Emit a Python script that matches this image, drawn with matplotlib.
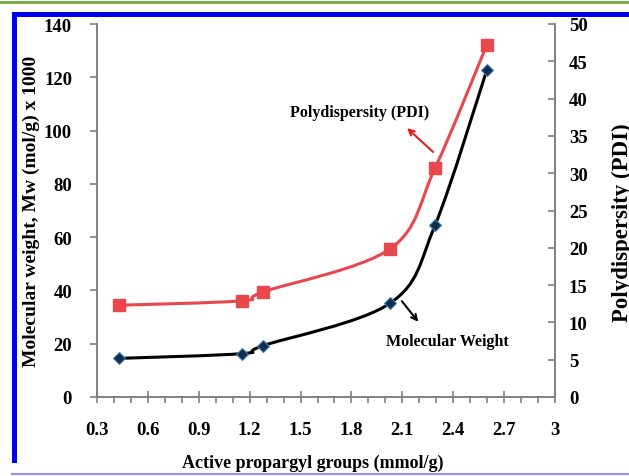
import numpy as np
import matplotlib
matplotlib.use("Agg")
import matplotlib.pyplot as plt
from matplotlib.path import Path
from matplotlib.patches import PathPatch, Rectangle
from matplotlib.lines import Line2D
from matplotlib.ticker import MultipleLocator

# data
propargyl = [0.43, 1.155, 1.28, 2.03, 2.293, 2.598]
mol_weight = [14.5, 16.3, 19.3, 35.3, 64.5, 122.7]
pdi = [12.3, 12.9, 14.1, 19.9, 30.7, 47.2]
xtick_labels = ['0.3', '0.6', '0.9', '1.2', '1.5', '1.8', '2.1', '2.4', '2.7', '3']

plt.rcParams['font.family'] = ['Liberation Serif', 'DejaVu Serif']
plt.rcParams['font.weight'] = 'bold'


def smooth_path(x, y):
    # excel-like smoothed line: catmull-rom segments as cubic beziers
    pts = np.column_stack([x, y]).astype(float)
    p = np.vstack([pts[0], pts, pts[-1]])
    verts = [pts[0]]
    codes = [Path.MOVETO]
    for i in range(1, len(p) - 2):
        c1 = p[i] + (p[i + 1] - p[i - 1]) / 6.0
        c2 = p[i + 1] - (p[i + 2] - p[i]) / 6.0
        verts += [c1, c2, p[i + 1]]
        codes += [Path.CURVE4] * 3
    return Path(verts, codes)


fig = plt.figure(figsize=(6.29, 4.77), dpi=100)
ax = fig.add_axes([97 / 629, 1 - 398 / 477, 458 / 629, 373 / 477])
ax2 = ax.twinx()

black = '#000000'
red = '#E8474C'

ax.add_patch(PathPatch(smooth_path(propargyl, mol_weight), fill=False,
                       edgecolor=black, lw=2.2, zorder=3))
ax.plot(propargyl, mol_weight, ls='none', marker='D', ms=6,
        mfc='#0f2f4f', mec='#3f7fb0', mew=0.8, zorder=4)

ax2.add_patch(PathPatch(smooth_path(propargyl, pdi), fill=False,
                        edgecolor=red, lw=2.2, zorder=3))
ax2.plot(propargyl, pdi, ls='none', marker='s', ms=8,
         mfc=red, mec=red, zorder=4)

ax.set_xlim(0.3, 3.0)
ax.set_ylim(0, 140)
ax2.set_ylim(0, 50)

ax.xaxis.set_minor_locator(MultipleLocator(0.1))
ax.yaxis.set_major_locator(MultipleLocator(20))
ax2.yaxis.set_major_locator(MultipleLocator(5))
ax.set_xticks(np.arange(0.3, 3.01, 0.3))
ax.set_xticklabels(xtick_labels)

grey = '#808080'
for a in (ax, ax2):
    for s in a.spines.values():
        s.set_color(grey)
        s.set_linewidth(1.2)
    a.spines['top'].set_visible(False)
ax.tick_params(axis='x', which='major', direction='inout', length=9, width=1.2,
               color=grey, labelsize=13.5, pad=13)
ax.tick_params(axis='x', which='minor', direction='out', length=4, width=1.2, color=grey)
ax.tick_params(axis='y', direction='out', length=5, width=1.2, color=grey,
               labelsize=13.5, pad=13)
ax2.tick_params(axis='y', direction='in', length=5, width=1.2, color=grey,
                labelsize=13.5, pad=10)

ax.set_xlabel('Active propargyl groups (mmol/g)', fontsize=13, fontweight='bold')
ax.xaxis.set_label_coords(0.47, -0.152)
ax.set_ylabel('Molecular weight, Mw (mol/g) x 1000', fontsize=14, fontweight='bold')
ax.yaxis.set_label_coords(-0.125, 0.5)
ax2.set_ylabel('Polydispersity (PDI)', fontsize=16.5, fontweight='bold', rotation=90)
ax2.yaxis.set_label_coords(1.125, 0.47)

ax2.text(1.851, 38.2, 'Polydispersity (PDI)', fontsize=11.5, fontweight='bold',
         ha='center', va='center')
ax2.annotate('', xy=(2.116, 36.3), xytext=(2.293, 32.6),
             arrowprops=dict(arrowstyle='->', color='#E02020', lw=1.5))
ax.text(2.364, 21.1, 'Molecular Weight', fontsize=11.5, fontweight='bold',
        ha='center', va='center')
ax.annotate('', xy=(2.204, 27.4), xytext=(2.087, 36.8),
            arrowprops=dict(arrowstyle='->', color='black', lw=1.5))

# page decorations around the figure
fig.add_artist(Line2D([0, 1], [1 - 3 / 477, 1 - 3 / 477], color='#6FA843', lw=2))
fig.add_artist(Rectangle((12 / 629, 13 / 477), 5 / 629, 1 - 30 / 477,
                         color='#0000F0', lw=0))
fig.add_artist(Rectangle((12 / 629, 1 - 18 / 477), 1, 5 / 477,
                         color='#0000F0', lw=0))
fig.add_artist(Line2D([12 / 629, 1], [2 / 477, 2 / 477], color='#9090FF', lw=1.5))

fig.savefig('out.png', dpi=100)
